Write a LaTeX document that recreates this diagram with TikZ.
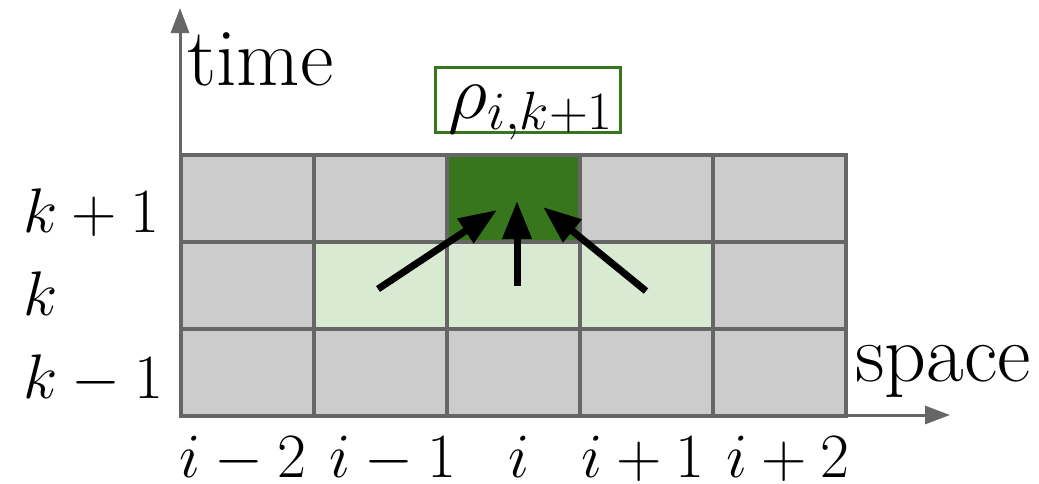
\RequirePackage{fix-cm}
\documentclass[tikz,border=0pt]{standalone}
\usetikzlibrary{arrows.meta}
\definecolor{cellgray}{HTML}{CCCCCC}
\definecolor{linegray}{HTML}{666666}
\definecolor{lightgreen}{HTML}{D9EAD3}
\definecolor{darkgreen}{HTML}{38761D}
\begin{document}
\begin{tikzpicture}[x=0.5pt,y=-0.5pt,
  cell/.style={draw=linegray,line width=2pt,inner sep=0pt,minimum width=66.5pt,minimum height=43.5pt,fill=cellgray},
  axis/.style={draw=linegray,line width=1.5pt,-{Triangle[length=12.5pt,width=9pt]}},
  flow/.style={draw=black,line width=3.5pt,-{Triangle[length=19pt,width=14pt]}},
  mlabel/.style={font=\fontsize{31.5}{37}\selectfont,inner sep=0pt},
  tlabel/.style={font=\fontsize{41}{48}\selectfont,inner sep=0pt}]
\useasboundingbox (0,0) rectangle (1039,483);
% cells
\foreach \c/\x in {1/247,2/380.5,3/513.5,4/646.5,5/779.5}{
  \foreach \r/\y in {1/198.5,2/285.5,3/372}{
    \node[cell] (c\c\r) at (\x,\y) {};
  }
}
\node[cell,fill=lightgreen] (c22) at (380.5,285.5) {};
\node[cell,fill=lightgreen] (c32) at (513.5,285.5) {};
\node[cell,fill=lightgreen] (c42) at (646.5,285.5) {};
\node[cell,fill=darkgreen] (c31) at (513.5,198.5) {};
% axes
\coordinate (O) at (180,415);
\coordinate (T) at (180,8);
\coordinate (S) at (950,415);
\draw[axis] (O) -- (T);
\draw[axis] (O) -- (S);
% axis labels
\node[tlabel,anchor=base west] (time) at (187,85) {time};
\node[tlabel,anchor=base west] (space) at (855,381) {space};
% row labels
\node[mlabel,anchor=base west] (kp) at (23,232) {$k+1$};
\node[mlabel,anchor=base west] (k) at (23,315) {$k$};
\node[mlabel,anchor=base west] (km) at (23,398) {$k-1$};
% column labels
\node[mlabel,anchor=base] (im2) at (243,477) {$i-2$};
\node[mlabel,anchor=base] (im1) at (393,477) {$i-1$};
\node[mlabel,anchor=base] (i0) at (519,477) {$i$};
\node[mlabel,anchor=base] (ip1) at (643,477) {$i+1$};
\node[mlabel,anchor=base] (ip2) at (788,477) {$i+2$};
% rho box
\node[draw=darkgreen,line width=1.5pt,fill=white,minimum width=92.5pt,minimum height=32.5pt,inner sep=0pt] (rhobox) at (527.5,99.5) {};
\node[font=\fontsize{38.5}{45}\selectfont,inner sep=0pt,anchor=base] (rho) at (531,118) {$\rho_{i,k+1}$};
% arrows
\coordinate (t1) at (378,289);
\coordinate (h1) at (497,210);
\coordinate (t2) at (517,286);
\coordinate (h2) at (517,201);
\coordinate (t3) at (646,291);
\coordinate (h3) at (543,207);
\draw[flow] (t1) -- (h1);
\draw[flow] (t2) -- (h2);
\draw[flow] (t3) -- (h3);
\end{tikzpicture}
\end{document}
